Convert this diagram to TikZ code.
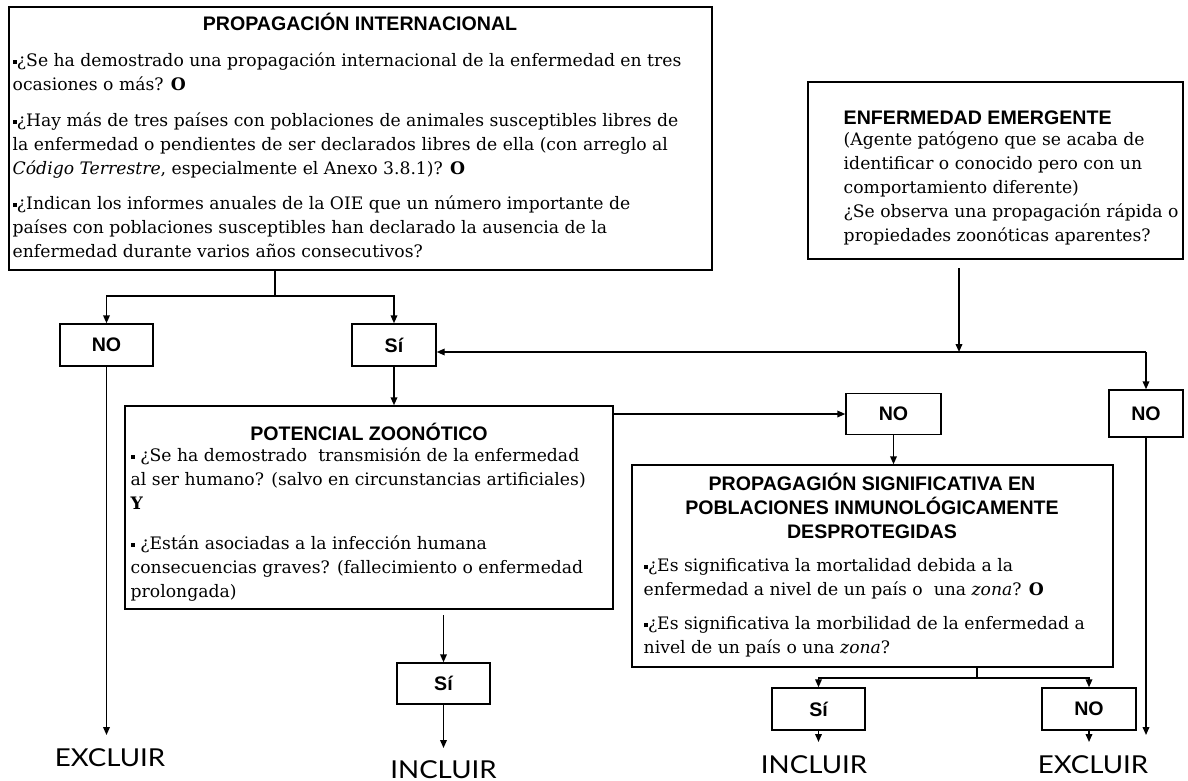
\documentclass[tikz,border=0pt]{standalone}
\usepackage{fontspec}
\setmainfont{DejaVu Serif}
\newfontfamily\hdfont{Liberation Sans}
\newfontfamily\endfont{Lato}[FakeStretch=1.12]
\usetikzlibrary{arrows.meta,fit}
\newcommand\sqb{\raisebox{0.3ex}{\rule{3.2pt}{3.2pt}}}

\begin{document}
\begin{tikzpicture}[x=0.75pt,y=-0.75pt,line width=1.1pt,
  frame/.style={draw,line width=1.1pt,inner sep=0pt},
  btn/.style n args={2}{draw,line width=1.1pt,inner sep=0pt,
    minimum width=#1*0.75pt,minimum height=#2*0.75pt,
    font=\hdfont\bfseries\fontsize{14.7}{16}\selectfont},
  hd/.style={font=\hdfont\bfseries\fontsize{14.7}{18}\selectfont,inner sep=0pt,anchor=base},
  body/.style={font=\fontsize{12.9}{18}\selectfont,inner sep=0pt,anchor=north west,align=left},
  outcome/.style={font=\endfont\fontsize{18.5}{20}\selectfont,inner sep=0pt,anchor=base},
  arr/.style={-{Triangle[length=6pt,width=5pt]},line width=1.1pt}]

\fill[white] (0,0) rectangle (1188,781);
\useasboundingbox (0,0) rectangle (1188,781);

% ---- main boxes ----
\node[frame,fit={(9,7) (712,270)}] (b1) {};
\node[hd] (t1) at (360,31) {PROPAGACIÓN INTERNACIONAL};
\node[body] (p1a) at (12,52) {\sqb¿Se ha demostrado una propagación internacional de la enfermedad en tres\\ocasiones o más? \textbf{O}};
\node[body] (p1b) at (12,112) {\sqb¿Hay más de tres países con poblaciones de animales susceptibles libres de\\la enfermedad o pendientes de ser declarados libres de ella (con arreglo al\\\textit{Código Terrestre}, especialmente el Anexo 3.8.1)? \textbf{O}};
\node[body] (p1c) at (12,195) {\sqb¿Indican los informes anuales de la OIE que un número importante de\\países con poblaciones susceptibles han declarado la ausencia de la\\enfermedad durante varios años consecutivos?};

\node[frame,fit={(808,82) (1183,259)}] (b2) {};
\node[hd,anchor=base west] (t2) at (843,125) {ENFERMEDAD EMERGENTE};
\node[body] (p2) at (843,131) {(Agente patógeno que se acaba de\\identificar o conocido pero con un\\comportamiento diferente)\\¿Se observa una propagación rápida o\\propiedades zoonóticas aparentes?};

\node[frame,fit={(125,406) (613,609)}] (pot) {};
\node[hd] (t3) at (369,440) {POTENCIAL ZOONÓTICO};
\node[body] (p3a) at (130,447) {\sqb{} ¿Se ha demostrado \ transmisión de la enfermedad\\al ser humano? (salvo en circunstancias artificiales)\\\textbf{Y}};
\node[body] (p3b) at (130,535) {\sqb{} ¿Están asociadas a la infección humana\\consecuencias graves? (fallecimiento o enfermedad\\prolongada)};

\node[frame,fit={(632,465) (1113,667)}] (prop) {};
\node[hd,anchor=north,align=center] (t4) at (872,472) {PROPAGAGIÓN SIGNIFICATIVA EN\\POBLACIONES INMUNOLÓGICAMENTE\\DESPROTEGIDAS};
\node[body] (p4a) at (643,558) {\sqb¿Es significativa la mortalidad debida a la\\enfermedad a nivel de un país o \ una \textit{zona}? \textbf{O}};
\node[body] (p4b) at (643,616) {\sqb¿Es significativa la morbilidad de la enfermedad a\\nivel de un país o una \textit{zona}?};

% ---- answer boxes ----
\node[btn={93}{42}] (no1) at (106.5,345) {NO};
\node[btn={84}{42}] (si1) at (394,345) {Sí};
\node[btn={95}{41}] (no2) at (893.5,414) {NO};
\node[btn={74}{47}] (no3) at (1146,413.5) {NO};
\node[btn={93}{41}] (si2) at (443.5,683.5) {Sí};
\node[btn={93}{42}] (si3) at (818.5,709) {Sí};
\node[btn={94}{42}] (no4) at (1089,709) {NO};

% ---- outcomes ----
\node[outcome] (exc1) at (110,766) {EXCLUIR};
\node[outcome] (inc2) at (443.5,778) {INCLUIR};
\node[outcome] (inc3) at (814,773) {INCLUIR};
\node[outcome] (exc4) at (1093,773) {EXCLUIR};

% ---- connectors ----
\coordinate (j1) at (275,296);
\draw (j1 |- b1.south) -- (j1);
\draw[arr] (j1) -| (no1.north);
\draw[arr] (j1) -| (si1.north);

\coordinate (e1) at (959,268);
\coordinate (j2) at (959,352);
\coordinate (j3) at (1146,352);
\draw[arr] (e1) -- (j2);
\draw[arr] (j3) -- (si1.east |- j3);
\draw[arr] (j3) -- (no3.north);

\draw[arr] (si1.south) -- (si1.south |- pot.north);
\draw[arr] (pot.east |- no2.west) -- (no2.west);
\draw[arr] (no2.south) -- (no2.south |- prop.north);

\coordinate (p1) at (443.5,615);
\draw[arr] (p1) -- (si2.north);
\coordinate (i2) at (443.5,748);
\draw[arr] (si2.south) -- (i2);

\coordinate (x1) at (106.5,735);
\draw[arr] (no1.south) -- (x1);
\coordinate (x3) at (1146,735);
\draw[arr] (no3.south) -- (x3);

\coordinate (j4) at (977,678);
\draw (j4 |- prop.south) -- (j4);
\draw[arr] (j4) -| (si3.north);
\draw[arr] (j4) -| (no4.north);
\coordinate (i3) at (818.5,742);
\draw[arr] (si3.south) -- (i3);
\coordinate (x4) at (1089,742);
\draw[arr] (no4.south) -- (x4);
\end{tikzpicture}
\end{document}
